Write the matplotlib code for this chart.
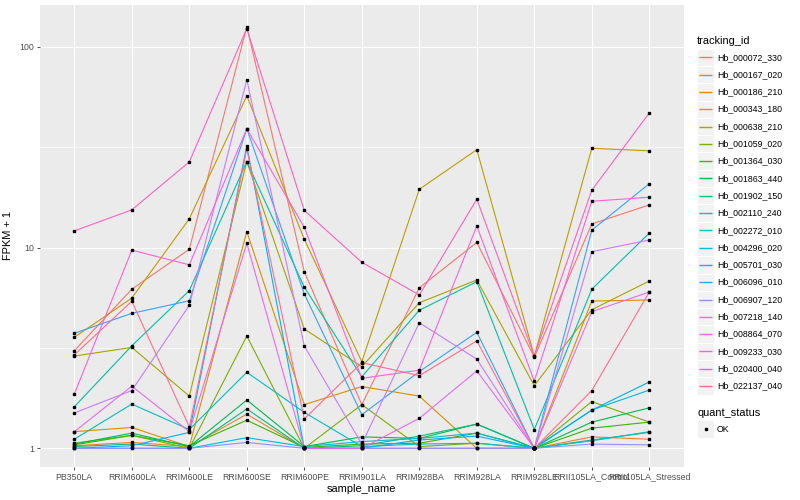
import numpy as np
import matplotlib.pyplot as plt
from matplotlib.patches import Rectangle

plt.rcParams['font.family'] = ['Liberation Sans', 'DejaVu Sans']

# samples on x axis
samples = ["PB350LA", "RRIM600LA", "RRIM600LE", "RRIM600SE", "RRIM600PE", "RRIM901LA",
           "RRIM928BA", "RRIM928LA", "RRIM928LE", "RRII105LA_Control", "RRII105LA_Stressed"]

tracking_ids = ["Hb_000072_330", "Hb_000167_020", "Hb_000186_210", "Hb_000343_180",
                "Hb_000638_210", "Hb_001059_020", "Hb_001364_030", "Hb_001863_440",
                "Hb_001902_150", "Hb_002110_240", "Hb_002272_010", "Hb_004296_020",
                "Hb_005701_030", "Hb_006096_010", "Hb_006907_120", "Hb_007218_140",
                "Hb_008864_070", "Hb_009233_030", "Hb_020400_040", "Hb_022137_040"]

# FPKM + 1 per gene, one value per sample
fpkm = {
    "Hb_000072_330": [3.06, 6.2, 9.8, 126, 7.58, 1.65, 6.3, 10.6, 2.84, 13.1, 16.3],
    "Hb_000167_020": [1.03, 1.07, 1.02, 1.48, 1.0, 1.0, 1.0, 1.0, 1.0, 1.14, 1.11],
    "Hb_000186_210": [1.21, 1.27, 1.02, 12.0, 1.65, 2.03, 1.82, 1.0, 1.0, 5.41, 5.48],
    "Hb_000343_180": [3.57, 5.6, 13.9, 56.9, 11.0, 2.70, 19.5, 30.7, 2.88, 31.2, 30.3],
    "Hb_000638_210": [2.88, 3.18, 1.82, 26.8, 3.93, 2.55, 5.31, 6.89, 2.05, 4.9, 6.81],
    "Hb_001059_020": [1.06, 1.16, 1.0, 3.62, 1.0, 1.65, 1.02, 1.06, 1.0, 1.71, 1.35],
    "Hb_001364_030": [1.04, 1.16, 1.03, 1.38, 1.01, 1.05, 1.06, 1.19, 1.0, 1.26, 1.35],
    "Hb_001863_440": [1.05, 1.19, 1.02, 1.74, 1.02, 1.14, 1.12, 1.32, 1.0, 1.35, 1.59],
    "Hb_001902_150": [1.02, 1.05, 1.0, 1.57, 1.0, 1.03, 1.15, 1.32, 1.0, 1.1, 1.2],
    "Hb_002110_240": [1.61, 3.24, 6.1, 26.8, 6.34, 2.27, 4.87, 6.76, 1.24, 6.2, 11.8],
    "Hb_002272_010": [1.11, 1.66, 1.24, 2.39, 1.51, 1.02, 1.05, 1.06, 1.0, 1.09, 1.21],
    "Hb_004296_020": [1.0, 1.0, 1.0, 1.13, 1.02, 1.08, 1.12, 1.19, 1.0, 1.55, 1.95],
    "Hb_005701_030": [1.0, 1.03, 1.2, 32.1, 1.0, 1.0, 1.1, 1.15, 1.0, 1.55, 2.14],
    "Hb_006096_010": [3.74, 4.7, 5.43, 39.0, 5.87, 1.47, 2.41, 3.78, 1.0, 12.2, 20.8],
    "Hb_006907_120": [1.0, 1.0, 1.0, 1.07, 1.0, 1.0, 1.0, 1.0, 1.0, 1.05, 1.04],
    "Hb_007218_140": [1.50, 1.94, 5.15, 68.5, 3.23, 1.05, 4.22, 2.78, 1.0, 9.53, 10.9],
    "Hb_008864_070": [1.21, 2.04, 1.21, 10.5, 1.0, 1.0, 1.41, 2.43, 1.0, 4.79, 6.0],
    "Hb_009233_030": [1.86, 9.7, 8.2, 39.0, 12.6, 2.23, 2.45, 12.8, 2.16, 17.0, 17.8],
    "Hb_020400_040": [12.1, 15.4, 26.7, 123, 15.3, 8.44, 5.8, 17.4, 2.88, 19.3, 46.8],
    "Hb_022137_040": [2.92, 5.4, 1.28, 30.9, 1.40, 2.67, 2.30, 3.43, 1.0, 1.94, 6.0],
}

# ggplot hue palette, 20 levels
colors = ["#F8766D", "#EA8331", "#D89000", "#C09B00", "#A3A500", "#7CAE00", "#39B600",
          "#00BB4E", "#00BF7D", "#00C1A3", "#00BFC4", "#00BAE0", "#00B0F6", "#35A2FF",
          "#9590FF", "#C77CFF", "#E76BF3", "#FA62DB", "#FF62BC", "#FF6C91"]

fig = plt.figure(figsize=(8, 5), dpi=100)
ax = fig.add_axes([39.8 / 800, 1 - 467 / 500, (683.8 - 39.8) / 800, 462 / 500])
ax.set_facecolor("#EBEBEB")

x = np.arange(len(samples))
for tid, col in zip(tracking_ids, colors):
    ax.plot(x, fpkm[tid], color=col, lw=0.8, zorder=3)
for tid in tracking_ids:
    ax.plot(x, fpkm[tid], ls="none", marker="s", ms=2.0, color="black", zorder=4)

ax.set_yscale("log")
ax.set_ylim(10 ** -0.0931, 10 ** 2.2077)
ax.set_xlim(-0.6, len(samples) - 0.4)
ax.set_yticks([1, 10, 100])
ax.set_yticklabels(["1", "10", "100"])
ax.set_yticks([10 ** 0.5, 10 ** 1.5], minor=True)
ax.yaxis.set_minor_formatter(plt.NullFormatter())
ax.set_xticks(x)
ax.set_xticklabels(samples)

ax.grid(True, which="major", color="white", lw=0.85, zorder=0)
ax.grid(True, which="minor", axis="y", color="white", lw=0.4, zorder=0)
ax.set_axisbelow(True)
for s in ax.spines.values():
    s.set_visible(False)
ax.tick_params(which="major", length=2.5, width=0.6, color="#333333",
               labelsize=6.3, labelcolor="#4D4D4D", pad=1.5)
ax.tick_params(which="minor", length=0)
ax.set_xlabel("sample_name", fontsize=7.9, labelpad=2)
ax.set_ylabel("FPKM + 1", fontsize=7.9, labelpad=5)

# legend drawn by hand in pixel coordinates
lg = fig.add_axes([0, 0, 1, 1])
lg.set_xlim(0, 800)
lg.set_ylim(500, 0)
lg.axis("off")
lg.text(697, 40.7, "tracking_id", fontsize=7.9, va="center", ha="left")
step = 17.3
y0 = 57.3
for i, (tid, col) in enumerate(zip(tracking_ids, colors)):
    yc = y0 + i * step
    lg.add_patch(Rectangle((697, yc - step / 2), 17, step, facecolor="#F2F2F2",
                           edgecolor="white", lw=0.6, zorder=1))
    lg.plot([699, 712], [yc, yc], color=col, lw=1.0, zorder=3, solid_capstyle="butt")
    lg.text(717, yc, tid, fontsize=6.3, va="center", ha="left")

lg.text(697, 412.7, "quant_status", fontsize=7.9, va="center", ha="left")
lg.add_patch(Rectangle((697, 429 - step / 2), 17, step, facecolor="#F2F2F2",
                       edgecolor="white", lw=0.6, zorder=1))
lg.plot([705.5], [429], marker="s", ms=2.0, color="black", zorder=3)
lg.text(717, 429, "OK", fontsize=6.3, va="center", ha="left")

fig.savefig("out.png", dpi=100)
